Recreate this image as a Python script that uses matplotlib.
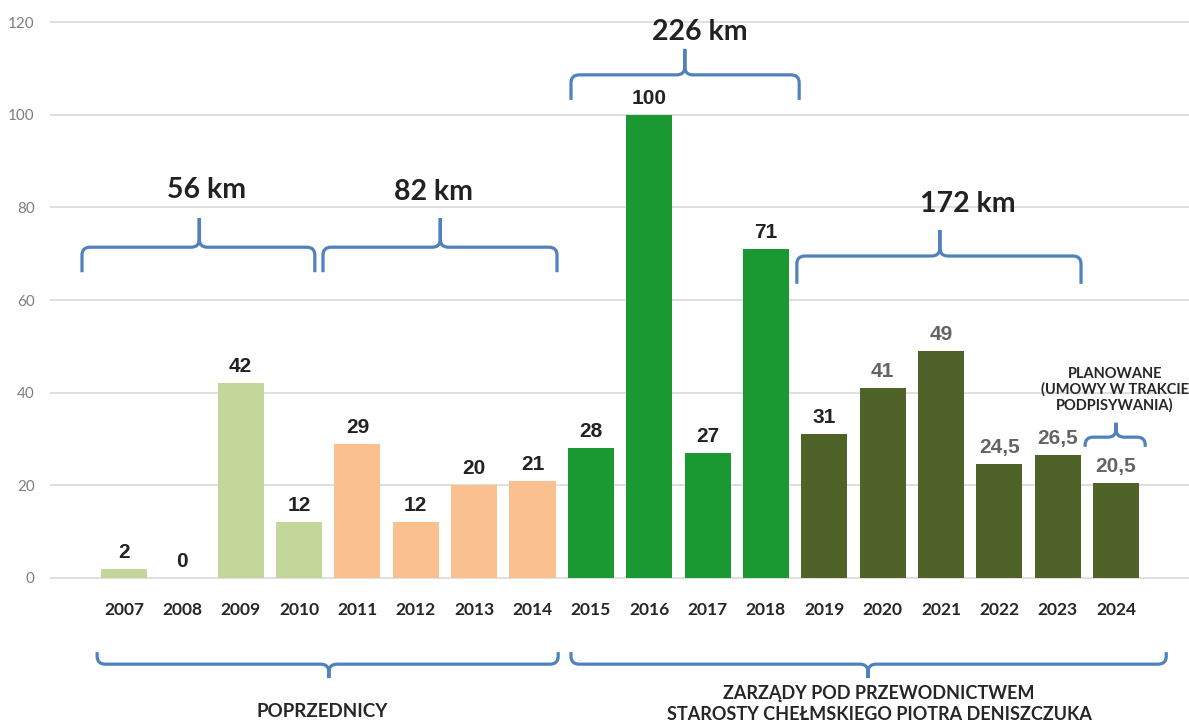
import numpy as np
import matplotlib.pyplot as plt
from matplotlib.path import Path
from matplotlib.patches import PathPatch

plt.rcParams['font.family'] = ['Lato', 'DejaVu Sans']

# Data: km of roads per year
years = ['2007', '2008', '2009', '2010', '2011', '2012', '2013', '2014', '2015',
         '2016', '2017', '2018', '2019', '2020', '2021', '2022', '2023', '2024']
km = [2, 0, 42, 12, 29, 12, 20, 21, 28, 100, 27, 71, 31, 41, 49, 24.5, 26.5, 20.5]
periods = [0, 0, 0, 0, 1, 1, 1, 1, 2, 2, 2, 2, 3, 3, 3, 3, 3, 3]

# (first, last) bar index of the summed groups
groups = [(0, 3), (4, 7), (8, 11), (12, 16)]
planned_text = 'PLANOWANE\n(UMOWY W TRAKCIE\nPODPISYWANIA)'
lower_texts = ['POPRZEDNICY',
               'ZARZĄDY POD PRZEWODNICTWEM\nSTAROSTY CHEŁMSKIEGO PIOTRA DENISZCZUKA']

period_colors = ['#C4D79B', '#FAC090', '#1A9933', '#4F6228']
brace_color = '#4F81BD'
dark = '#222222'
gray = '#646464'


def brace(ax, x0, x1, xm, y, end, tip, s=1, rx=0.14, ry=1.7):
    # s=1: ends point down, tip up; s=-1: the other way round
    verts = [(x0, y - s * end), (x0, y - s * ry), (x0, y), (x0 + rx, y),
             (xm - rx, y), (xm, y), (xm, y + s * ry), (xm, y + s * tip),
             (xm, y + s * ry), (xm, y), (xm + rx, y),
             (x1 - rx, y), (x1, y), (x1, y - s * ry), (x1, y - s * end)]
    codes = [Path.MOVETO, Path.LINETO, Path.CURVE3, Path.CURVE3,
             Path.LINETO, Path.CURVE3, Path.CURVE3, Path.LINETO,
             Path.LINETO, Path.CURVE3, Path.CURVE3,
             Path.LINETO, Path.CURVE3, Path.CURVE3, Path.LINETO]
    ax.add_patch(PathPatch(Path(verts, codes), fill=False, ec=brace_color,
                           lw=2.3, clip_on=False, capstyle='butt'))


fig = plt.figure(figsize=(11.89, 7.23), dpi=100)
ax = fig.add_axes([50 / 1189, 0, 1139 / 1189, 1])

x = np.arange(len(years))
ax.bar(x, km, width=0.79, color=[period_colors[p] for p in periods], zorder=2)

ax.set_xlim(-1.268, 18.25)
ax.set_ylim(-31.3, 124.76)
ax.set_yticks(range(0, 121, 20))
ax.set_xticks([])
ax.tick_params(axis='y', length=0, pad=11, labelsize=11, labelcolor='#7F7F7F')
for sp in ax.spines.values():
    sp.set_visible(False)
ax.grid(axis='y', color='#D9D9D9', lw=1.2)
ax.set_axisbelow(True)

# value labels and year labels
for i, v in enumerate(km):
    ax.annotate('{:g}'.format(v).replace('.', ','), (i, v), xytext=(0, 8),
                textcoords='offset points', ha='center', va='baseline',
                fontsize=15, fontweight='bold', family=['Liberation Sans'],
                color=gray if int(years[i]) >= 2020 else dark)
    ax.text(i, -6.9, years[i], ha='center', va='center', fontsize=12.5,
            fontweight='bold', color='#262626')

# upper braces with sums
upper = [(-0.72, 3.27, 1.29, 71.4, 5.4, 6.3, 1.42, 83.7),
         (3.41, 7.42, 5.42, 71.4, 5.4, 6.3, 5.31, 83.3),
         (7.66, 11.57, 9.61, 108.6, 5.4, 5.6, 9.87, 117.8),
         (11.53, 16.4, 13.98, 69.5, 6.0, 5.6, 14.46, 80.7)]
for (a, b), (x0, x1, xm, y, e, t, tx, ty) in zip(groups, upper):
    brace(ax, x0, x1, xm, y, e, t)
    total = sum(km[a:b + 1])
    ax.text(tx, ty, '{:g} km'.format(total), ha='center', va='center',
            fontsize=20.5, fontweight='bold', color=dark)

# planned year
brace(ax, 16.47, 17.5, 17.0, 30.4, 2.1, 3.1)
ax.text(16.98, 40.6, planned_text, ha='center', va='center', fontsize=10.5,
        fontweight='bold', color='#262626', linespacing=1.1)

# lower braces
brace(ax, -0.46, 7.44, 3.51, -18.6, 2.6, 3.0, s=-1)
brace(ax, 7.66, 17.86, 12.75, -18.6, 2.6, 3.0, s=-1)
ax.text(3.39, -28.9, lower_texts[0], ha='center', va='center', fontsize=13.5,
        fontweight='bold', color='#262626')
ax.text(12.94, -27.2, lower_texts[1], ha='center', va='center', fontsize=13,
        fontweight='bold', color='#262626', linespacing=1.35)

fig.savefig('out.png', dpi=100)
